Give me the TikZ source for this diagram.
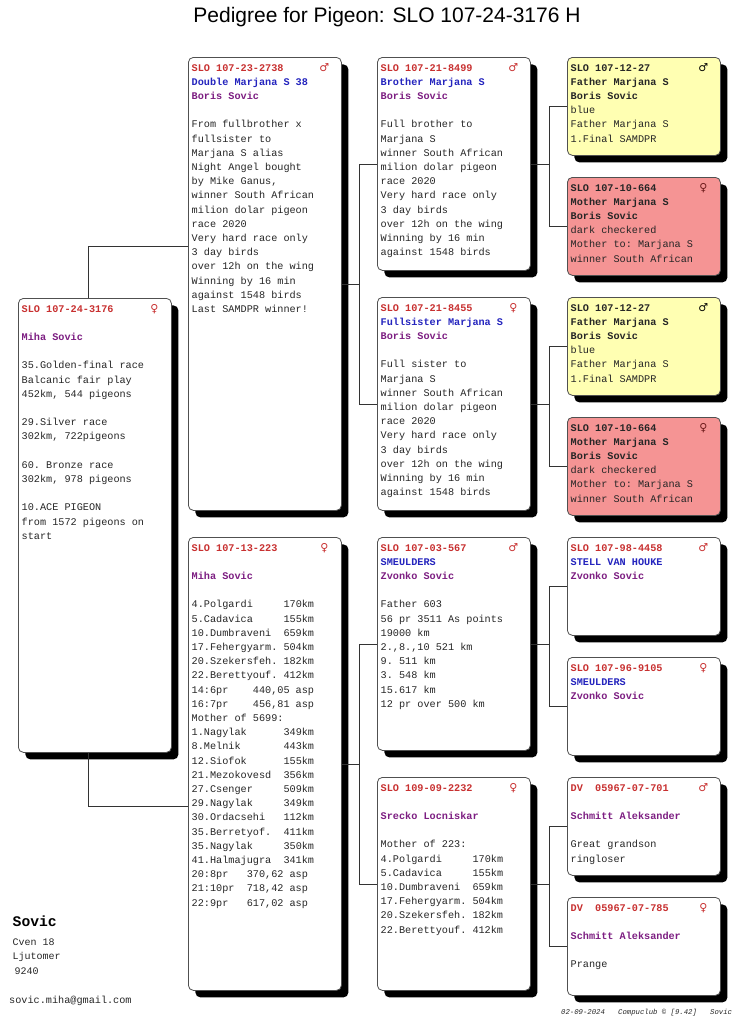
\documentclass[tikz,border=0pt]{standalone}
\usepackage{fontspec}
\setsansfont{Liberation Sans}
\setmonofont{Liberation Mono}
\newfontfamily\sexfont{DejaVu Sans}
\usetikzlibrary{positioning,shadows}

\definecolor{ringred}{RGB}{200,48,48}
\definecolor{nameblue}{RGB}{36,36,190}
\definecolor{ownerpurple}{RGB}{125,30,130}
\definecolor{cockyellow}{RGB}{255,255,178}
\definecolor{henpink}{RGB}{245,148,148}
\definecolor{edgegray}{RGB}{80,80,80}

\newcommand{\ringno}[1]{\textbf{\color{ringred}#1}}
\newcommand{\pname}[1]{\textbf{\color{nameblue}#1}}
\newcommand{\owner}[1]{\textbf{\color{ownerpurple}#1}}
\newcommand{\cock}{{\sexfont ♂}}
\newcommand{\hen}{{\sexfont ♀}}

% one card: name, top left corner, height, extra style, sex, text
\newcommand{\bird}[6]{%
  \node[card,minimum height=#3pt,#4] (#1) at #2 {};
  \node[txt] (#1-txt) at ([xshift=3.5pt,yshift=-4pt]#1.north west) {\strut#6};
  \node[sex] (#1-sex) at ([xshift=-17.5pt,yshift=-11pt]#1.north east) {#5};
}

\begin{document}
\begin{tikzpicture}[x=1pt,y=-1pt,
    card/.style={anchor=north west,draw=edgegray,line width=0.8pt,rounded corners=5pt,
      fill=white,minimum width=153pt,inner sep=0pt,
      drop shadow={shadow xshift=7pt,shadow yshift=-7pt,opacity=1,fill=black}},
    cockcard/.style={fill=cockyellow},
    hencard/.style={fill=henpink},
    txt/.style={anchor=north west,inner sep=0pt,align=left,text=black!85,
      font=\ttfamily\fontsize{10.2}{14.2}\selectfont},
    sex/.style={inner sep=0pt,text=ringred,font=\fontsize{11}{13}\selectfont},
    link/.style={draw=black!80,line width=0.8pt}]
  \useasboundingbox (0,0) rectangle (740,1036);

  \node[font=\sffamily\fontsize{21}{25}\selectfont] (title) at (387,17.5)
    {Pedigree for Pigeon: SLO 107-24-3176 H};

  % the pigeon
  \bird{p}{(18,298)}{454}{}{\hen}{\ringno{SLO 107-24-3176}\\~\\\owner{Miha Sovic}\\~\\
    35.Golden-final race\\Balcanic fair play\\452km, 544 pigeons\\~\\
    29.Silver race\\302km, 722pigeons\\~\\
    60. Bronze race\\302km, 978 pigeons\\~\\
    10.ACE PIGEON\\from 1572 pigeons on\\start}

  % parents
  \bird{s}{(188,57)}{453}{}{\cock}{\ringno{SLO 107-23-2738}\\\pname{Double Marjana S 38}\\
    \owner{Boris Sovic}\\~\\
    From fullbrother x\\fullsister to\\Marjana S alias\\Night Angel bought\\
    by Mike Ganus,\\winner South African\\milion dolar pigeon\\race 2020\\
    Very hard race only\\3 day birds\\over 12h on the wing\\Winning by 16 min\\
    against 1548 birds\\Last SAMDPR winner!}
  \bird{d}{(188,537)}{453}{}{\hen}{\ringno{SLO 107-13-223}\\~\\\owner{Miha Sovic}\\~\\
    4.Polgardi~~~~~170km\\5.Cadavica~~~~~155km\\10.Dumbraveni~~659km\\
    17.Fehergyarm.~504km\\20.Szekersfeh.~182km\\22.Berettyouf.~412km\\
    14:6pr~~~~440,05~asp\\16:7pr~~~~456,81~asp\\Mother of 5699:\\
    1.Nagylak~~~~~~349km\\8.Melnik~~~~~~~443km\\12.Siofok~~~~~~155km\\
    21.Mezokovesd~~356km\\27.Csenger~~~~~509km\\29.Nagylak~~~~~349km\\
    30.Ordacsehi~~~112km\\35.Berretyof.~~411km\\35.Nagylak~~~~~350km\\
    41.Halmajugra~~341km\\20:8pr~~~370,62~asp\\21:10pr~~718,42~asp\\
    22:9pr~~~617,02~asp}

  % grandparents
  \bird{ss}{(377,57)}{213}{}{\cock}{\ringno{SLO 107-21-8499}\\\pname{Brother Marjana S}\\
    \owner{Boris Sovic}\\~\\
    Full brother to\\Marjana S\\winner South African\\milion dolar pigeon\\
    race 2020\\Very hard race only\\3 day birds\\over 12h on the wing\\
    Winning by 16 min\\against 1548 birds}
  \bird{sd}{(377,297)}{213}{}{\hen}{\ringno{SLO 107-21-8455}\\\pname{Fullsister Marjana S}\\
    \owner{Boris Sovic}\\~\\
    Full sister to\\Marjana S\\winner South African\\milion dolar pigeon\\
    race 2020\\Very hard race only\\3 day birds\\over 12h on the wing\\
    Winning by 16 min\\against 1548 birds}
  \bird{ds}{(377,537)}{213}{}{\cock}{\ringno{SLO 107-03-567}\\\pname{SMEULDERS}\\
    \owner{Zvonko Sovic}\\~\\
    Father 603\\56 pr 3511 As points\\19000 km\\2.,8.,10 521 km\\9. 511 km\\
    3. 548 km\\15.617 km\\12 pr over 500 km}
  \bird{dd}{(377,777)}{213}{}{\hen}{\ringno{SLO 109-09-2232}\\~\\\owner{Srecko Locniskar}\\~\\
    Mother of 223:\\4.Polgardi~~~~~170km\\5.Cadavica~~~~~155km\\
    10.Dumbraveni~~659km\\17.Fehergyarm.~504km\\20.Szekersfeh.~182km\\
    22.Berettyouf.~412km}

  % great-grandparents
  \bird{sss}{(567,57)}{98}{cockcard}{\textcolor{black}{\cock}}{\textbf{SLO 107-12-27}\\
    \textbf{Father Marjana S}\\\textbf{Boris Sovic}\\blue\\Father Marjana S\\1.Final SAMDPR}
  \bird{ssd}{(567,177)}{98}{hencard}{\textcolor{ringred!55!black}{\hen}}{\textbf{SLO 107-10-664}\\
    \textbf{Mother Marjana S}\\\textbf{Boris Sovic}\\dark checkered\\Mother to: Marjana S\\
    winner South African}
  \bird{sds}{(567,297)}{98}{cockcard}{\textcolor{black}{\cock}}{\textbf{SLO 107-12-27}\\
    \textbf{Father Marjana S}\\\textbf{Boris Sovic}\\blue\\Father Marjana S\\1.Final SAMDPR}
  \bird{sdd}{(567,417)}{98}{hencard}{\textcolor{ringred!55!black}{\hen}}{\textbf{SLO 107-10-664}\\
    \textbf{Mother Marjana S}\\\textbf{Boris Sovic}\\dark checkered\\Mother to: Marjana S\\
    winner South African}
  \bird{dss}{(567,537)}{98}{}{\cock}{\ringno{SLO 107-98-4458}\\\pname{STELL VAN HOUKE}\\
    \owner{Zvonko Sovic}}
  \bird{dsd}{(567,657)}{98}{}{\hen}{\ringno{SLO 107-96-9105}\\\pname{SMEULDERS}\\
    \owner{Zvonko Sovic}}
  \bird{dds}{(567,777)}{98}{}{\cock}{\ringno{DV~~05967-07-701}\\~\\
    \owner{Schmitt Aleksander}\\~\\Great grandson\\ringloser}
  \bird{ddd}{(567,897)}{98}{}{\hen}{\ringno{DV~~05967-07-785}\\~\\
    \owner{Schmitt Aleksander}\\~\\Prange}

  % connectors
  \draw[link] ([xshift=-6.5pt]p.north) |- ([yshift=38pt]s.west);
  \draw[link] ([xshift=-6.5pt]p.south) |- ([yshift=-42pt]d.west);
  \foreach \g in {s,d} {
    \draw[link] (\g.east) -- ++(18,0) coordinate (\g-j);
    \draw[link] (\g s.west) -| (\g-j) |- (\g d.west);
  }
  \foreach \g in {ss,sd,ds,dd} {
    \draw[link] (\g.east) -- ++(18.5,0) coordinate (\g-j);
    \draw[link] (\g s.west) -| (\g-j) |- (\g d.west);
  }

  % breeder
  \node[anchor=base west,inner sep=0pt,font=\ttfamily\bfseries\fontsize{14.7}{17}\selectfont]
    (breeder) at (12.5,926.5) {Sovic};
  \node[anchor=base west,inner sep=0pt,align=left,text=black!85,
    font=\ttfamily\fontsize{10}{14.2}\selectfont] (address) at (12.5,974)
    {Cven 18\\Ljutomer\\\hspace{2pt}9240};
  \node[anchor=base west,inner sep=0pt,text=black!85,font=\ttfamily\fontsize{10.2}{12}\selectfont]
    (mail) at (9,1003.5) {sovic.miha@gmail.com};
  \node[anchor=base west,inner sep=0pt,text=black!85,
    font=\ttfamily\itshape\fontsize{7.3}{9}\selectfont] (stamp) at (561,1014)
    {02-09-2024~~~Compuclub~©~[9.42]~~~Sovic};
\end{tikzpicture}
\end{document}
